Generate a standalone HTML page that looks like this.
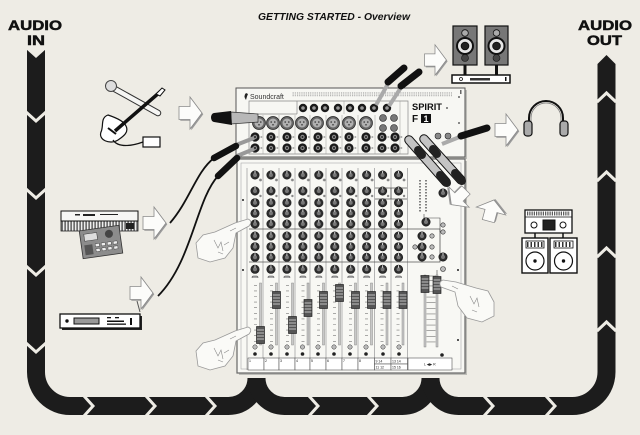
<!DOCTYPE html>
<html><head><meta charset="utf-8"><style>
html,body{margin:0;padding:0;background:#eeece5;}
svg{display:block;}
</style></head><body>
<svg width="640" height="435" viewBox="0 0 640 435" xmlns="http://www.w3.org/2000/svg">
<defs>
<g id="knob"><circle r="4.2" fill="#2e2e2e" stroke="#111" stroke-width="0.6"/><circle r="2" fill="#777"/><line x1="0" y1="-4" x2="0" y2="-1.6" stroke="#fff" stroke-width="0.8"/></g>
<pattern id="kp" x="247" y="0" width="15.95" height="435" patternUnits="userSpaceOnUse">
 <use href="#knob" x="8" y="175"/><use href="#knob" x="8" y="191"/><use href="#knob" x="8" y="202.7"/>
 <use href="#knob" x="8" y="213.3"/><use href="#knob" x="8" y="224"/><use href="#knob" x="8" y="236"/>
 <use href="#knob" x="8" y="246.7"/><use href="#knob" x="8" y="257.3"/><use href="#knob" x="8" y="269.3"/>
 <circle cx="13.5" cy="180" r="1.4" fill="#888"/><circle cx="13.5" cy="196" r="1.2" fill="#888"/>
 <rect x="5" y="276" width="6" height="3" rx="1.5" fill="#aaa" stroke="#444" stroke-width="0.5"/>
</pattern>
<pattern id="dots" width="2.2" height="2.2" patternUnits="userSpaceOnUse"><rect width="1.1" height="1.1" fill="#999"/></pattern>
<pattern id="keys" width="3" height="10" patternUnits="userSpaceOnUse"><rect width="3" height="10" fill="#6f6f6f"/><rect width="1.3" height="10" fill="#eee"/></pattern>
<g id="arr"><polygon points="-11,-6.5 0,-6.5 0,-16 12,0 0,16 0,6.5 -11,6.5" fill="#9a9a9a" transform="translate(1.3,1.3)"/><polygon points="-11,-6.5 0,-6.5 0,-16 12,0 0,16 0,6.5 -11,6.5" fill="#fcfcfa" stroke="#8a8a8a" stroke-width="0.8"/></g>
<g id="cap"><rect x="-4" y="-8.5" width="8" height="17" fill="#555" stroke="#111" stroke-width="0.6"/><line x1="-3.5" y1="-5" x2="3.5" y2="-5" stroke="#ddd" stroke-width="0.8"/><line x1="-3.5" y1="-2" x2="3.5" y2="-2" stroke="#ddd" stroke-width="0.8"/><line x1="-3.5" y1="1" x2="3.5" y2="1" stroke="#ddd" stroke-width="0.8"/><line x1="-3.5" y1="4" x2="3.5" y2="4" stroke="#ddd" stroke-width="0.8"/></g>
<g id="jack"><circle r="4.6" fill="#1a1a1a"/><circle r="2.2" fill="#888"/><circle r="1" fill="#222"/><line x1="5.5" y1="0" x2="7.2" y2="0" stroke="#444" stroke-width="0.8"/></g>
<g id="sjack"><circle r="4.2" fill="#1a1a1a"/><circle r="1.8" fill="#999"/></g>
<g id="xlr"><circle r="6.5" fill="#666" stroke="#222" stroke-width="0.7"/><circle r="4.5" fill="#b0b0b0"/><circle cx="-1.8" cy="-1" r="0.8" fill="#333"/><circle cx="1.8" cy="-1" r="0.8" fill="#333"/><circle cx="0" cy="1.8" r="0.8" fill="#333"/></g>
</defs>

<rect width="640" height="435" fill="#eeece5"/>

<!-- Title & labels -->
<text x="334" y="20" text-anchor="middle" font-family="'Liberation Sans',sans-serif" font-size="10.5" font-weight="bold" font-style="italic" fill="#111" textLength="152" lengthAdjust="spacingAndGlyphs">GETTING STARTED  -  Overview</text>
<text x="8" y="30" font-family="'Liberation Sans',sans-serif" font-size="14" font-weight="bold" fill="#111" stroke="#111" stroke-width="0.5" textLength="54" lengthAdjust="spacingAndGlyphs">AUDIO</text>
<text x="27" y="45" font-family="'Liberation Sans',sans-serif" font-size="14" font-weight="bold" fill="#111" stroke="#111" stroke-width="0.5" textLength="18" lengthAdjust="spacingAndGlyphs">IN</text>
<text x="578" y="30" font-family="'Liberation Sans',sans-serif" font-size="14" font-weight="bold" fill="#111" stroke="#111" stroke-width="0.5" textLength="54" lengthAdjust="spacingAndGlyphs">AUDIO</text>
<text x="587" y="45" font-family="'Liberation Sans',sans-serif" font-size="14" font-weight="bold" fill="#111" stroke="#111" stroke-width="0.5" textLength="35" lengthAdjust="spacingAndGlyphs">OUT</text>

<!-- Signal flow band -->
<g fill="none" stroke="#1c1c1c" stroke-width="18">
<path d="M36 50 L36 372 A34 34 0 0 0 70 406 L228.5 406 A28 28 0 0 0 256.5 378"/>
<path d="M256.5 378 A28 28 0 0 0 284.5 406 L402.5 406 A28 28 0 0 0 430.5 378"/>
<path d="M430.5 378 A28 28 0 0 0 458.5 406 L572.5 406 A34 34 0 0 0 606.5 372 L606.5 66"/>
</g>
<polygon points="597.5,67 615.5,67 615.5,64 606.5,55 597.5,64" fill="#1c1c1c"/>
<polygon points="26,49 46,49 36,58" fill="#eeece5"/>
<path fill="none" stroke="#eeece5" stroke-width="3" d="M26 112 L36 121 L46 112 M26 189 L36 198 L46 189 M26 266 L36 275 L46 266 M26 343 L36 352 L46 343
M84 396 L93 406 L84 416 M146 396 L155 406 L146 416 M206 396 L215 406 L206 416 M309 396 L318 406 L309 416 M368 396 L377 406 L368 416 M484 396 L493 406 L484 416 M546 396 L555 406 L546 416
M597 102 L606.5 93 L616 102 M597 181 L606.5 172 L616 181 M597 257 L606.5 248 L616 257 M597 331 L606.5 322 L616 331"/>

<!-- Mixer top rack panel -->
<rect x="238" y="90" width="229" height="69" fill="#bdbdb8"/>
<rect x="236" y="88" width="229" height="69" fill="#f7f7f3" stroke="#555" stroke-width="1"/>
<rect x="292" y="92" width="160" height="5" fill="url(#dots)"/>
<path d="M246 93 q-3 3 0 7 q1-4 2-6z" fill="#222"/>
<text x="250" y="99" font-family="'Liberation Sans',sans-serif" font-size="7" fill="#333">Soundcraft</text>
<path d="M249 101 L249 154 L408 154 L408 101 Z M249 114 L297 114 M297 101 L297 114 M297 101 L400 101" fill="none" stroke="#888" stroke-width="0.7"/>
<g stroke="#999" stroke-width="0.5"><line x1="263" y1="115" x2="263" y2="154"/><line x1="279" y1="115" x2="279" y2="154"/><line x1="295" y1="115" x2="295" y2="154"/><line x1="310" y1="115" x2="310" y2="154"/><line x1="326" y1="115" x2="326" y2="154"/><line x1="342" y1="115" x2="342" y2="154"/><line x1="358" y1="115" x2="358" y2="154"/><line x1="375" y1="115" x2="375" y2="154"/><line x1="344" y1="101" x2="344" y2="114"/><line x1="400" y1="101" x2="400" y2="154"/></g>
<use href="#sjack" x="303" y="108"/><use href="#sjack" x="314" y="108"/><use href="#sjack" x="325" y="108"/><use href="#sjack" x="338" y="108"/><use href="#sjack" x="350" y="108"/><use href="#sjack" x="362" y="108"/><use href="#sjack" x="374" y="108"/><use href="#sjack" x="387" y="108"/>
<use href="#xlr" x="259" y="123"/><use href="#xlr" x="273" y="123"/><use href="#xlr" x="287" y="123"/><use href="#xlr" x="302" y="123"/><use href="#xlr" x="317" y="123"/><use href="#xlr" x="333" y="123"/><use href="#xlr" x="349" y="123"/><use href="#xlr" x="366" y="123"/>
<g fill="#777" stroke="#222" stroke-width="0.6"><circle cx="383" cy="118" r="3.5"/><circle cx="394" cy="118" r="3.5"/><circle cx="383" cy="128" r="3.5"/><circle cx="394" cy="128" r="3.5"/></g>
<use href="#jack" x="255" y="137"/><use href="#jack" x="271" y="137"/><use href="#jack" x="287" y="137"/><use href="#jack" x="302.5" y="137"/><use href="#jack" x="318" y="137"/><use href="#jack" x="334" y="137"/><use href="#jack" x="349" y="137"/><use href="#jack" x="366" y="137"/><use href="#jack" x="382" y="137"/><use href="#jack" x="395" y="137"/>
<use href="#jack" x="255" y="148"/><use href="#jack" x="271" y="148"/><use href="#jack" x="287" y="148"/><use href="#jack" x="302.5" y="148"/><use href="#jack" x="318" y="148"/><use href="#jack" x="334" y="148"/><use href="#jack" x="349" y="148"/><use href="#jack" x="366" y="148"/><use href="#jack" x="382" y="148"/><use href="#jack" x="395" y="148"/>
<text x="412" y="110" font-family="'Liberation Sans',sans-serif" font-size="9.5" font-weight="bold" fill="#111" textLength="30" lengthAdjust="spacingAndGlyphs">SPIRIT</text>
<text x="412" y="122" font-family="'Liberation Sans',sans-serif" font-size="10" font-weight="bold" fill="#111">F</text>
<rect x="421" y="114" width="10" height="9" fill="#111"/>
<text x="426" y="122" text-anchor="middle" font-family="'Liberation Sans',sans-serif" font-size="9" font-weight="bold" fill="#fff">1</text>
<g fill="#888" stroke="#222" stroke-width="0.6"><circle cx="438" cy="136" r="3"/><circle cx="448" cy="136" r="3"/></g>
<g fill="#666"><circle cx="459" cy="97" r="1"/><circle cx="447" cy="108" r="1"/><circle cx="459" cy="123" r="1"/><rect x="460" y="90" width="1.5" height="4"/></g>

<!-- Mixer surface -->
<rect x="239" y="161" width="228" height="214" fill="#bdbdb8"/>
<rect x="237" y="159" width="228" height="214" fill="#f8f8f4" stroke="#666" stroke-width="1.2"/>
<rect x="241" y="163" width="220" height="206" fill="none" stroke="#aaa" stroke-width="0.6"/>
<g stroke="#888" stroke-width="0.6"><line x1="247" y1="168" x2="247" y2="370"/><line x1="263" y1="168" x2="263" y2="370"/><line x1="279" y1="168" x2="279" y2="370"/><line x1="295" y1="168" x2="295" y2="370"/><line x1="310" y1="168" x2="310" y2="370"/><line x1="326" y1="168" x2="326" y2="370"/><line x1="342" y1="168" x2="342" y2="370"/><line x1="358" y1="168" x2="358" y2="370"/><line x1="374.5" y1="168" x2="374.5" y2="370"/><line x1="391" y1="168" x2="391" y2="370"/><line x1="407.5" y1="168" x2="407.5" y2="370"/></g>
<rect x="247" y="168" width="160" height="110" fill="url(#kp)"/>
<path d="M249 229 L440 229 L440 262 L249 262 M375 188 L407 188 M391 188 L391 199 M375 199 L407 199" fill="none" stroke="#555" stroke-width="0.8"/>
<!-- master section -->
<g stroke="#333" stroke-width="1.2"><line x1="420" y1="180" x2="420" y2="213" stroke-dasharray="1.5 1.5"/><line x1="426" y1="180" x2="426" y2="213" stroke-dasharray="1.5 1.5"/></g>
<path d="M424 214 L424 218 L440 218 L440 232" fill="none" stroke="#444" stroke-width="0.6"/>
<use href="#knob" x="443" y="193"/><use href="#knob" x="426" y="222"/><use href="#knob" x="422" y="236"/><use href="#knob" x="422" y="247"/><use href="#knob" x="422" y="257"/><use href="#knob" x="443" y="257"/>
<g fill="#bbb" stroke="#333" stroke-width="0.6"><circle cx="443" cy="225" r="2.2"/><circle cx="443" cy="232" r="2.2"/><circle cx="432" cy="236" r="2.2"/><circle cx="432" cy="247" r="2.2"/><circle cx="415" cy="247" r="2.2"/><circle cx="432" cy="257" r="2.2"/><circle cx="443" cy="269" r="2.5"/></g>
<path d="M420 276 L437 276 L437 270" fill="none" stroke="#444" stroke-width="0.6"/>
<!-- faders -->
<g fill="#c8c8c8" stroke="#777" stroke-width="0.4">
<rect x="259.5" y="283" width="2" height="62"/><rect x="275.5" y="283" width="2" height="62"/><rect x="291.5" y="283" width="2" height="62"/><rect x="307" y="283" width="2" height="62"/><rect x="322.5" y="283" width="2" height="62"/><rect x="338.5" y="283" width="2" height="62"/><rect x="354.5" y="283" width="2" height="62"/><rect x="370.5" y="283" width="2" height="62"/><rect x="386" y="283" width="2" height="62"/><rect x="402" y="283" width="2" height="62"/><rect x="424" y="275" width="2" height="72"/><rect x="436" y="275" width="2" height="72"/></g>
<g stroke="#777" stroke-width="3" stroke-dasharray="0.6 5">
<line x1="255.5" y1="285" x2="255.5" y2="345"/><line x1="271.5" y1="285" x2="271.5" y2="345"/><line x1="287.5" y1="285" x2="287.5" y2="345"/><line x1="303" y1="285" x2="303" y2="345"/><line x1="318.5" y1="285" x2="318.5" y2="345"/><line x1="334.5" y1="285" x2="334.5" y2="345"/><line x1="350.5" y1="285" x2="350.5" y2="345"/><line x1="366.5" y1="285" x2="366.5" y2="345"/><line x1="382" y1="285" x2="382" y2="345"/><line x1="398" y1="285" x2="398" y2="345"/><line x1="431" y1="280" x2="431" y2="345" stroke-width="9"/></g>
<use href="#cap" x="260.5" y="335"/><use href="#cap" x="276.5" y="300"/><use href="#cap" x="292.5" y="325"/><use href="#cap" x="308" y="308"/><use href="#cap" x="323.5" y="300"/><use href="#cap" x="339.5" y="293"/><use href="#cap" x="355.5" y="300"/><use href="#cap" x="371.5" y="300"/><use href="#cap" x="387" y="300"/><use href="#cap" x="403" y="300"/><use href="#cap" x="425" y="284"/><use href="#cap" x="437" y="285"/>
<g fill="#bbb" stroke="#333" stroke-width="0.5"><circle cx="255" cy="347" r="2.2"/><circle cx="271" cy="347" r="2.2"/><circle cx="287" cy="347" r="2.2"/><circle cx="302.5" cy="347" r="2.2"/><circle cx="318" cy="347" r="2.2"/><circle cx="334" cy="347" r="2.2"/><circle cx="350" cy="347" r="2.2"/><circle cx="366" cy="347" r="2.2"/><circle cx="383" cy="347" r="2.2"/><circle cx="399" cy="347" r="2.2"/></g>
<g fill="#222"><circle cx="255" cy="354" r="1.8"/><circle cx="271" cy="354" r="1.8"/><circle cx="287" cy="354" r="1.8"/><circle cx="302.5" cy="354" r="1.8"/><circle cx="318" cy="354" r="1.8"/><circle cx="334" cy="354" r="1.8"/><circle cx="350" cy="354" r="1.8"/><circle cx="366" cy="354" r="1.8"/><circle cx="383" cy="354" r="1.8"/><circle cx="399" cy="354" r="1.8"/><circle cx="442" cy="355" r="1.8"/><circle cx="458" cy="340" r="1"/><circle cx="243" cy="270" r="1"/><circle cx="458" cy="270" r="1"/><circle cx="243" cy="200" r="1"/><circle cx="458" cy="200" r="1"/></g>
<g fill="#fff" stroke="#555" stroke-width="0.6"><rect x="248" y="358" width="16" height="12"/><rect x="264" y="358" width="15" height="12"/><rect x="279" y="358" width="16" height="12"/><rect x="295" y="358" width="15" height="12"/><rect x="310" y="358" width="16" height="12"/><rect x="326" y="358" width="16" height="12"/><rect x="342" y="358" width="16" height="12"/><rect x="358" y="358" width="16.5" height="12"/><rect x="374.5" y="358" width="16.5" height="6"/><rect x="374.5" y="364" width="16.5" height="6"/><rect x="391" y="358" width="16.5" height="6"/><rect x="391" y="364" width="16.5" height="6"/><rect x="408" y="358" width="44" height="12"/></g>
<g font-family="'Liberation Sans',sans-serif" font-size="3.5" fill="#222"><text x="249" y="362">1</text><text x="265" y="362">2</text><text x="280" y="362">3</text><text x="296" y="362">4</text><text x="311" y="362">5</text><text x="327" y="362">6</text><text x="343" y="362">7</text><text x="359" y="362">8</text><text x="375.5" y="362.5">9  14</text><text x="392" y="362.5">13  14</text><text x="375.5" y="368.5">11  12</text><text x="392" y="368.5">15  16</text><text x="424" y="365.5">L  ◀▶  R</text></g>

<!-- Plugs and cables -->
<path d="M214 158 C196 172 190 200 170 223" fill="none" stroke="#111" stroke-width="1.8"/>
<path d="M218 176 C196 200 192 262 158 296" fill="none" stroke="#111" stroke-width="1.8"/>
<line x1="236" y1="145" x2="254" y2="138" stroke="#999" stroke-width="4"/>
<line x1="237" y1="156" x2="254" y2="149" stroke="#999" stroke-width="4"/>
<line x1="214" y1="158" x2="236" y2="146" stroke="#111" stroke-width="6.5" stroke-linecap="round"/>
<line x1="218" y1="176" x2="237" y2="158" stroke="#111" stroke-width="6.5" stroke-linecap="round"/>
<polygon points="231,112 258,114 258,122 231,124" fill="#b8b8b8" stroke="#333" stroke-width="0.7"/>
<polygon points="214,113 231,111 232,125 214,122" fill="#111"/>
<ellipse cx="214" cy="117.5" rx="3" ry="4.5" fill="#111"/>
<line x1="376" y1="105" x2="389" y2="82" stroke="#aaa" stroke-width="4"/>
<line x1="389" y1="106" x2="402" y2="86" stroke="#aaa" stroke-width="4"/>
<line x1="388" y1="82" x2="404" y2="68" stroke="#111" stroke-width="7" stroke-linecap="round"/>
<line x1="401" y1="86" x2="419" y2="72" stroke="#111" stroke-width="7" stroke-linecap="round"/>
<line x1="442" y1="144" x2="462" y2="136" stroke="#aaa" stroke-width="4"/>
<line x1="461" y1="136" x2="487" y2="128" stroke="#111" stroke-width="7" stroke-linecap="round"/>
<g stroke-linecap="round">
<line x1="409" y1="140" x2="446" y2="182" stroke="#111" stroke-width="9.5"/>
<line x1="409" y1="140" x2="446" y2="182" stroke="#c4c4c4" stroke-width="7.5"/>
<line x1="424" y1="139" x2="461" y2="180" stroke="#111" stroke-width="9.5"/>
<line x1="424" y1="139" x2="461" y2="180" stroke="#c4c4c4" stroke-width="7.5"/>
<line x1="418" y1="150" x2="422" y2="155" stroke="#222" stroke-width="8"/>
<line x1="433" y1="149" x2="437" y2="154" stroke="#222" stroke-width="8"/>
<line x1="440" y1="175" x2="447" y2="183" stroke="#222" stroke-width="8"/>
<line x1="455" y1="173" x2="462" y2="181" stroke="#222" stroke-width="8"/>
</g>

<!-- Hands -->
<g fill="#fafaf7" stroke="#999" stroke-width="0.8">
<path d="M196 243 L203 235 L215 232 L235 223 L248 219 Q253 221 249 226 L236 233 L233 248 L225 258 L210 262 L198 258 Z"/>
<path d="M196 351 L203 343 L215 340 L235 331 L248 327 Q253 329 249 334 L236 341 L233 356 L225 366 L210 370 L198 366 Z"/>
<path d="M494 302 L488 291 L476 288 L456 282 L443 280 Q438 282 441 287 L455 292 L458 306 L467 318 L482 322 L494 316 Z"/>
</g>
<g fill="none" stroke="#888" stroke-width="0.6">
<path d="M214 240 l4 8 l3 -6 l2 9 M218 252 l5 2 M236 228 l-6 3 M224 245 l5 -3"/>
<path d="M214 348 l4 8 l3 -6 l2 9 M218 360 l5 2 M236 336 l-6 3 M224 353 l5 -3"/>
<path d="M470 296 l4 8 l3 -6 l2 9 M472 310 l5 2 M452 286 l6 3"/>
</g>

<!-- Arrows -->
<use href="#arr" transform="translate(190,113)"/>
<use href="#arr" transform="translate(154,223)"/>
<use href="#arr" transform="translate(141,293)"/>
<line x1="137" y1="301" x2="140" y2="312" stroke="#555" stroke-width="1"/>
<use href="#arr" transform="translate(435,60) scale(0.95)"/>
<use href="#arr" transform="translate(506,130)"/>
<use href="#arr" transform="translate(459,197) rotate(135) scale(0.9)"/>
<use href="#arr" transform="translate(491,211) rotate(-75) scale(0.95)"/>

<!-- Mic + guitar -->
<line x1="113" y1="88" x2="158" y2="113" stroke="#333" stroke-width="6.5" stroke-linecap="round"/>
<line x1="113" y1="88" x2="158" y2="113" stroke="#f6f6f4" stroke-width="4.5" stroke-linecap="round"/>
<circle cx="111" cy="86" r="5.5" fill="#ddd" stroke="#444" stroke-width="1"/>
<path d="M108 115 C100 118 104 126 101 132 C98 140 110 145 118 140 C124 136 129 132 126 126 C124 121 114 117 108 115 Z" fill="#fff" stroke="#111" stroke-width="1.2"/>
<line x1="160" y1="92" x2="115" y2="131" stroke="#111" stroke-width="3.5"/>
<path d="M156 94 L162 88 L165 90 L160 96 Z" fill="#fff" stroke="#111" stroke-width="1"/>
<line x1="108" y1="128" x2="116" y2="134" stroke="#111" stroke-width="2"/>
<path d="M113 140 C118 148 132 146 143 142" fill="none" stroke="#111" stroke-width="1.2"/>
<rect x="143" y="137" width="17" height="10" fill="#fff" stroke="#111" stroke-width="1.2"/>

<!-- Keyboard + drum machine -->
<rect x="61" y="221" width="77" height="10" fill="url(#keys)" stroke="#222" stroke-width="0.8"/>
<rect x="61" y="211" width="77" height="10" fill="#f6f6f4" stroke="#111" stroke-width="1"/>
<g fill="#222"><rect x="75" y="214" width="5" height="1.5"/><rect x="83" y="214" width="12" height="2"/><rect x="100" y="214" width="18" height="1"/><rect x="126" y="223" width="8" height="6"/></g>
<g transform="translate(101,242) rotate(-8)">
<rect x="-20" y="-14" width="40" height="28" fill="#8c8c8c" stroke="#333" stroke-width="0.8"/>
<rect x="-16" y="-10" width="13" height="7" fill="#ddd" stroke="#333" stroke-width="0.5"/>
<circle cx="9" cy="-7" r="4" fill="#444"/>
<rect x="-17" y="1" width="8" height="10" fill="#555"/>
<g fill="#eee" stroke="#333" stroke-width="0.4"><rect x="-6" y="1" width="4" height="3"/><rect x="0" y="1" width="4" height="3"/><rect x="6" y="1" width="4" height="3"/><rect x="12" y="1" width="4" height="3"/><rect x="-6" y="6" width="4" height="3"/><rect x="0" y="6" width="4" height="3"/><rect x="6" y="6" width="4" height="3"/><rect x="12" y="6" width="4" height="3"/></g>
</g>

<!-- Rack unit -->
<rect x="62" y="316" width="80" height="14" fill="#222"/>
<rect x="60" y="314" width="80" height="14" fill="#fff" stroke="#111" stroke-width="1.3"/>
<circle cx="67" cy="321" r="1.7" fill="#111"/>
<rect x="74" y="318" width="25" height="6" fill="#999" stroke="#111" stroke-width="1"/>
<g fill="#111"><rect x="107" y="317" width="4" height="1.3"/><rect x="115" y="317" width="4" height="1.3"/><rect x="107" y="320.5" width="17" height="1.5"/><rect x="107" y="323.5" width="19" height="1.3"/><rect x="130" y="318" width="2" height="7"/></g>

<!-- Monitors -->
<g stroke="#111">
<line x1="465" y1="64" x2="465" y2="75" stroke-width="3"/><line x1="496.5" y1="64" x2="496.5" y2="75" stroke-width="3"/>
<rect x="453" y="26" width="24" height="39" fill="#777" stroke-width="1.2"/>
<rect x="485" y="26" width="23" height="39" fill="#777" stroke-width="1.2"/>
<circle cx="465" cy="33" r="3.3" fill="#aaa" stroke-width="0.8"/><circle cx="496.5" cy="33" r="3.3" fill="#aaa" stroke-width="0.8"/>
<circle cx="465" cy="46" r="8" fill="#e6e6e6" stroke-width="2"/><circle cx="496.5" cy="46" r="8" fill="#e6e6e6" stroke-width="2"/>
<circle cx="465" cy="46" r="3.8" fill="#222"/><circle cx="496.5" cy="46" r="3.8" fill="#222"/>
<circle cx="465" cy="58" r="3.5" fill="#444" stroke-width="0.6"/><circle cx="496.5" cy="58" r="3.5" fill="#444" stroke-width="0.6"/>
<rect x="452" y="75" width="58" height="8" fill="#fff" stroke-width="1.5"/>
<circle cx="461" cy="79" r="1.5" fill="none" stroke-width="0.8"/>
<rect x="470" y="78" width="20" height="2.5" fill="#333" stroke="none"/>
<rect x="505" y="77" width="1.5" height="4" fill="#111" stroke="none"/>
</g>

<!-- Headphones -->
<path d="M529 126 L529 118 A17 17 0 0 1 563 118 L563 126" fill="none" stroke="#111" stroke-width="2"/>
<path d="M531 124 L531 118 A15 15 0 0 1 561 118 L561 124" fill="none" stroke="#777" stroke-width="0.8"/>
<rect x="524" y="121" width="8" height="15" rx="3" fill="#aaa" stroke="#111" stroke-width="1.2"/>
<rect x="560" y="121" width="8" height="15" rx="3" fill="#aaa" stroke="#111" stroke-width="1.2"/>

<!-- PA system -->
<g stroke="#111">
<rect x="525" y="210" width="47" height="23" fill="#fff" stroke-width="1.3"/>
<rect x="526" y="211" width="45" height="5" fill="#fff" stroke="none"/>
<line x1="527" y1="213.5" x2="570" y2="213.5" stroke="#333" stroke-width="4" stroke-dasharray="0.8 1"/>
<line x1="525" y1="217" x2="572" y2="217" stroke-width="0.8"/>
<circle cx="534" cy="225" r="3" fill="#fff" stroke-width="1"/><circle cx="563" cy="225" r="3" fill="#fff" stroke-width="1"/>
<rect x="543" y="220" width="12" height="10" fill="#222"/>
<line x1="535" y1="233" x2="535" y2="238" stroke-width="1.5"/><line x1="563" y1="233" x2="563" y2="238" stroke-width="1.5"/>
<rect x="522" y="238" width="26" height="35" fill="#fff" stroke-width="1.4"/>
<rect x="550" y="238" width="27" height="35" fill="#fff" stroke-width="1.4"/>
<rect x="526" y="241" width="18" height="7" fill="#fff" stroke-width="0.8"/>
<rect x="554" y="241" width="19" height="7" fill="#fff" stroke-width="0.8"/>
<line x1="527" y1="244.5" x2="543" y2="244.5" stroke="#333" stroke-width="5" stroke-dasharray="1.5 2"/>
<line x1="555" y1="244.5" x2="572" y2="244.5" stroke="#333" stroke-width="5" stroke-dasharray="1.5 2"/>
<circle cx="535" cy="261" r="9" fill="#fff" stroke-width="1.2"/><circle cx="563.5" cy="261" r="9" fill="#fff" stroke-width="1.2"/>
<circle cx="535" cy="261" r="1.2" fill="#111"/><circle cx="563.5" cy="261" r="1.2" fill="#111"/>
</g>
</svg>
</body></html>
